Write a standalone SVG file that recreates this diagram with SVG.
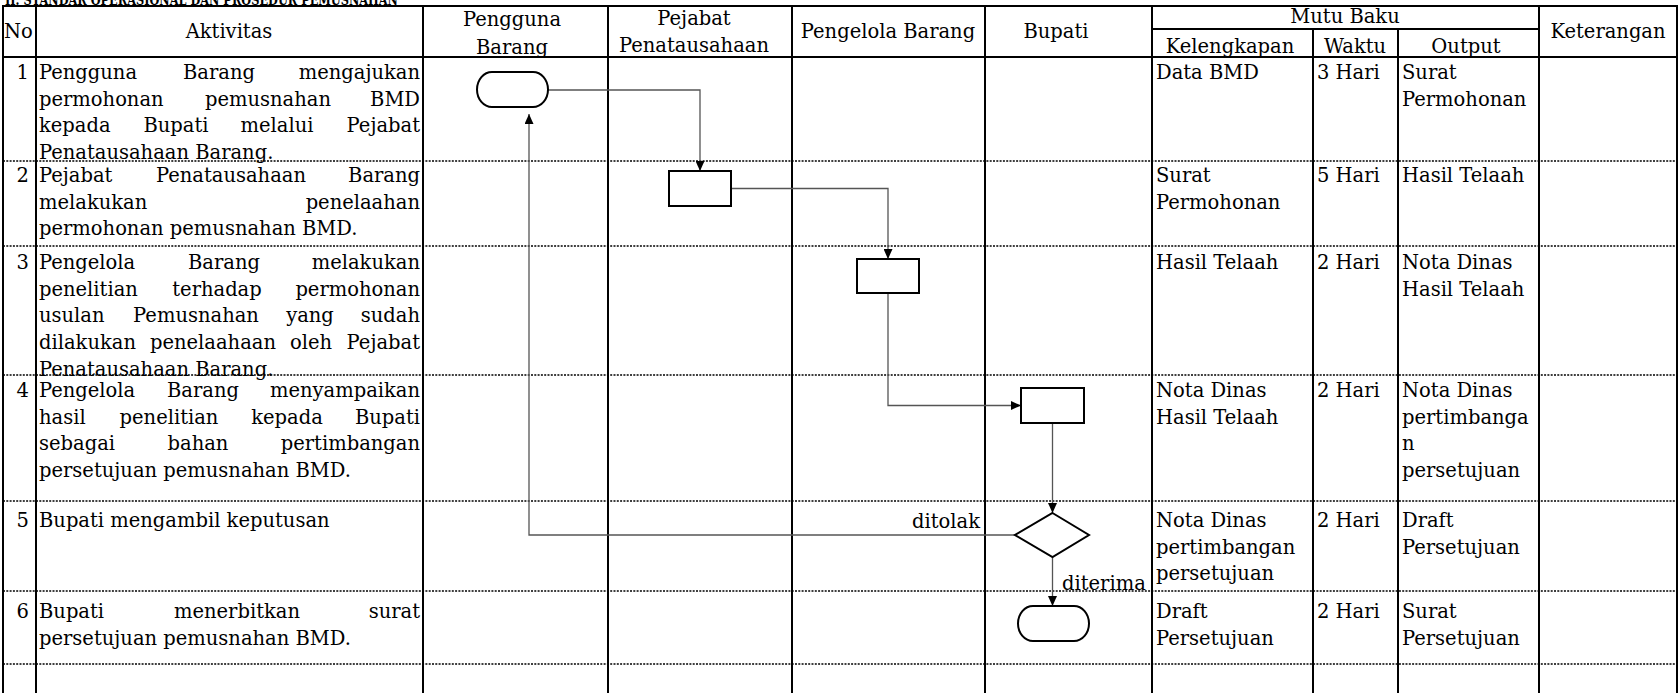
<svg xmlns="http://www.w3.org/2000/svg" width="1679" height="693" viewBox="0 0 1679 693">
  <defs>
    <style>
      .t { font-family: "DejaVu Serif", "Liberation Serif", serif; font-size: 19.5px; fill: #000; }
      .m { text-anchor: middle; }
      .e { text-anchor: end; }
      .title { font-family: "DejaVu Serif", "Liberation Serif", serif; font-size: 15px; font-weight: bold; fill: #000; }
      .grid { stroke: #000; stroke-width: 2; fill: none; }
      .dot { stroke: #000; stroke-width: 1.6; stroke-dasharray: 2 1.3; fill: none; }
      .shape { fill: #fff; stroke: #000; stroke-width: 2; }
      .conn { fill: none; stroke: #555; stroke-width: 1.3; }
    </style>
    <marker id="arrow" viewBox="0 0 10 9" refX="10" refY="4.5" markerWidth="10" markerHeight="9" markerUnits="userSpaceOnUse" orient="auto">
      <path d="M0,0 L10,4.5 L0,9 Z" fill="#000"/>
    </marker>
  </defs>

  <rect width="1679" height="693" fill="#fff"/>

  <!-- section title, partly above the page edge -->
  <text id="title" class="title" x="5" y="5" textLength="393" lengthAdjust="spacingAndGlyphs">II. STANDAR OPERASIONAL DAN PROSEDUR PEMUSNAHAN</text>

  <!-- table grid -->
  <g id="grid">
    <line class="grid" x1="3" y1="6" x2="1677" y2="6"/>
    <line class="grid" x1="1152" y1="29" x2="1539" y2="29"/>
    <line class="grid" x1="3" y1="57" x2="1677" y2="57"/>
    <line class="dot" x1="3" y1="161" x2="1677" y2="161"/>
    <line class="dot" x1="3" y1="246" x2="1677" y2="246"/>
    <line class="dot" x1="3" y1="375" x2="1677" y2="375"/>
    <line class="dot" x1="3" y1="501" x2="1677" y2="501"/>
    <line class="dot" x1="3" y1="591" x2="1677" y2="591"/>
    <line class="dot" x1="3" y1="664" x2="1677" y2="664"/>
    <line class="grid" x1="3" y1="5" x2="3" y2="693"/>
    <line class="grid" x1="36" y1="6" x2="36" y2="693"/>
    <line class="grid" x1="423" y1="6" x2="423" y2="693"/>
    <line class="grid" x1="608" y1="6" x2="608" y2="693"/>
    <line class="grid" x1="792" y1="6" x2="792" y2="693"/>
    <line class="grid" x1="985" y1="6" x2="985" y2="693"/>
    <line class="grid" x1="1152" y1="6" x2="1152" y2="693"/>
    <line class="grid" x1="1313" y1="29" x2="1313" y2="693"/>
    <line class="grid" x1="1398" y1="29" x2="1398" y2="693"/>
    <line class="grid" x1="1539" y1="6" x2="1539" y2="693"/>
    <line class="grid" x1="1677" y1="5" x2="1677" y2="693"/>
  </g>

  <!-- column headings -->
  <g id="header">
    <text class="t" x="4" y="38">No</text>
    <text class="t m" x="229" y="38">Aktivitas</text>
    <text class="t m" x="512" y="26">Pengguna</text>
    <text class="t m" x="512" y="53.5">Barang</text>
    <text class="t m" x="694" y="25">Pejabat</text>
    <text class="t m" x="694" y="52">Penatausahaan</text>
    <text class="t m" x="888" y="38">Pengelola Barang</text>
    <text class="t m" x="1056" y="38">Bupati</text>
    <text class="t m" x="1345" y="23">Mutu Baku</text>
    <text class="t m" x="1230" y="52.5">Kelengkapan</text>
    <text class="t m" x="1355" y="52.5">Waktu</text>
    <text class="t m" x="1466" y="52.5">Output</text>
    <text class="t m" x="1608" y="38">Keterangan</text>
  </g>

  <!-- step 1 -->
  <g id="row-1">
    <text class="t e" x="29" y="79">1</text>
    <text class="t" x="39" y="79">Pengguna</text>
    <text class="t m" x="219" y="79">Barang</text>
    <text class="t e" x="420" y="79">mengajukan</text>
    <text class="t" x="39" y="105.7">permohonan</text>
    <text class="t m" x="268" y="105.7">pemusnahan</text>
    <text class="t e" x="420" y="105.7">BMD</text>
    <text class="t" x="39" y="132.4">kepada</text>
    <text class="t m" x="176" y="132.4">Bupati</text>
    <text class="t m" x="277" y="132.4">melalui</text>
    <text class="t e" x="420" y="132.4">Pejabat</text>
    <text class="t" x="39" y="159.1">Penatausahaan Barang.</text>
    <text class="t" x="1156" y="79">Data BMD</text>
    <text class="t" x="1317" y="79">3 Hari</text>
    <text class="t" x="1402" y="79">Surat</text>
    <text class="t" x="1402" y="105.7">Permohonan</text>
  </g>

  <!-- step 2 -->
  <g id="row-2">
    <text class="t e" x="29" y="182">2</text>
    <text class="t" x="39" y="182">Pejabat</text>
    <text class="t m" x="231" y="182">Penatausahaan</text>
    <text class="t e" x="420" y="182">Barang</text>
    <text class="t" x="39" y="208.7">melakukan</text>
    <text class="t e" x="420" y="208.7">penelaahan</text>
    <text class="t" x="39" y="235.4">permohonan pemusnahan BMD.</text>
    <text class="t" x="1156" y="182">Surat</text>
    <text class="t" x="1156" y="208.7">Permohonan</text>
    <text class="t" x="1317" y="182">5 Hari</text>
    <text class="t" x="1402" y="182">Hasil Telaah</text>
  </g>

  <!-- step 3 -->
  <g id="row-3">
    <text class="t e" x="29" y="269">3</text>
    <text class="t" x="39" y="269">Pengelola</text>
    <text class="t m" x="224" y="269">Barang</text>
    <text class="t e" x="420" y="269">melakukan</text>
    <text class="t" x="39" y="295.7">penelitian</text>
    <text class="t m" x="217" y="295.7">terhadap</text>
    <text class="t e" x="420" y="295.7">permohonan</text>
    <text class="t" x="39" y="322.4">usulan</text>
    <text class="t m" x="196" y="322.4">Pemusnahan</text>
    <text class="t m" x="310" y="322.4">yang</text>
    <text class="t e" x="420" y="322.4">sudah</text>
    <text class="t" x="39" y="349.1">dilakukan</text>
    <text class="t m" x="213" y="349.1">penelaahaan</text>
    <text class="t m" x="311" y="349.1">oleh</text>
    <text class="t e" x="420" y="349.1">Pejabat</text>
    <text class="t" x="39" y="375.8">Penatausahaan Barang.</text>
    <text class="t" x="1156" y="269">Hasil Telaah</text>
    <text class="t" x="1317" y="269">2 Hari</text>
    <text class="t" x="1402" y="269">Nota Dinas</text>
    <text class="t" x="1402" y="295.7">Hasil Telaah</text>
  </g>

  <!-- step 4 -->
  <g id="row-4">
    <text class="t e" x="29" y="397">4</text>
    <text class="t" x="39" y="397">Pengelola</text>
    <text class="t m" x="203" y="397">Barang</text>
    <text class="t e" x="420" y="397">menyampaikan</text>
    <text class="t" x="39" y="423.7">hasil</text>
    <text class="t m" x="169" y="423.7">penelitian</text>
    <text class="t m" x="287" y="423.7">kepada</text>
    <text class="t e" x="420" y="423.7">Bupati</text>
    <text class="t" x="39" y="450.4">sebagai</text>
    <text class="t m" x="198" y="450.4">bahan</text>
    <text class="t e" x="420" y="450.4">pertimbangan</text>
    <text class="t" x="39" y="477.1">persetujuan pemusnahan BMD.</text>
    <text class="t" x="1156" y="397">Nota Dinas</text>
    <text class="t" x="1156" y="423.7">Hasil Telaah</text>
    <text class="t" x="1317" y="397">2 Hari</text>
    <text class="t" x="1402" y="397">Nota Dinas</text>
    <text class="t" x="1402" y="423.7">pertimbanga</text>
    <text class="t" x="1402" y="450.4">n</text>
    <text class="t" x="1402" y="477.1">persetujuan</text>
  </g>

  <!-- step 5 -->
  <g id="row-5">
    <text class="t e" x="29" y="527">5</text>
    <text class="t" x="39" y="527">Bupati mengambil keputusan</text>
    <text class="t" x="1156" y="527">Nota Dinas</text>
    <text class="t" x="1156" y="553.7">pertimbangan</text>
    <text class="t" x="1156" y="580.4">persetujuan</text>
    <text class="t" x="1317" y="527">2 Hari</text>
    <text class="t" x="1402" y="527">Draft</text>
    <text class="t" x="1402" y="553.7">Persetujuan</text>
  </g>

  <!-- step 6 -->
  <g id="row-6">
    <text class="t e" x="29" y="618">6</text>
    <text class="t" x="39" y="618">Bupati</text>
    <text class="t m" x="237" y="618">menerbitkan</text>
    <text class="t e" x="420" y="618">surat</text>
    <text class="t" x="39" y="644.7">persetujuan pemusnahan BMD.</text>
    <text class="t" x="1156" y="618">Draft</text>
    <text class="t" x="1156" y="644.7">Persetujuan</text>
    <text class="t" x="1317" y="618">2 Hari</text>
    <text class="t" x="1402" y="618">Surat</text>
    <text class="t" x="1402" y="644.7">Persetujuan</text>
  </g>

  <!-- flow connectors -->
  <g id="connectors">
    <path class="conn" d="M548,90 H700 V171" marker-end="url(#arrow)"/>
    <path class="conn" d="M731,188.5 H888 V259" marker-end="url(#arrow)"/>
    <path class="conn" d="M888,293 V405.5 H1021" marker-end="url(#arrow)"/>
    <path class="conn" d="M1052.5,423 V513" marker-end="url(#arrow)"/>
    <path class="conn" d="M1052.5,557 V606" marker-end="url(#arrow)"/>
    <path class="conn" d="M1015,535 H529 V114" marker-end="url(#arrow)"/>
    <text class="t e" x="980" y="528">ditolak</text>
    <text class="t" x="1062" y="590">diterima</text>
  </g>

  <!-- flow nodes -->
  <g id="node-start">
    <rect class="shape" x="477" y="72" width="71" height="35" rx="15" ry="17.5"/>
  </g>
  <g id="node-review">
    <rect class="shape" x="669" y="171" width="62" height="35"/>
  </g>
  <g id="node-research">
    <rect class="shape" x="857" y="259" width="62" height="34"/>
  </g>
  <g id="node-submit">
    <rect class="shape" x="1021" y="388" width="63" height="35"/>
  </g>
  <g id="node-decision">
    <polygon class="shape" points="1052.5,513 1089,535 1052.5,557 1015,535"/>
  </g>
  <g id="node-end">
    <rect class="shape" x="1018" y="606" width="71" height="35" rx="15" ry="17.5"/>
  </g>
</svg>
